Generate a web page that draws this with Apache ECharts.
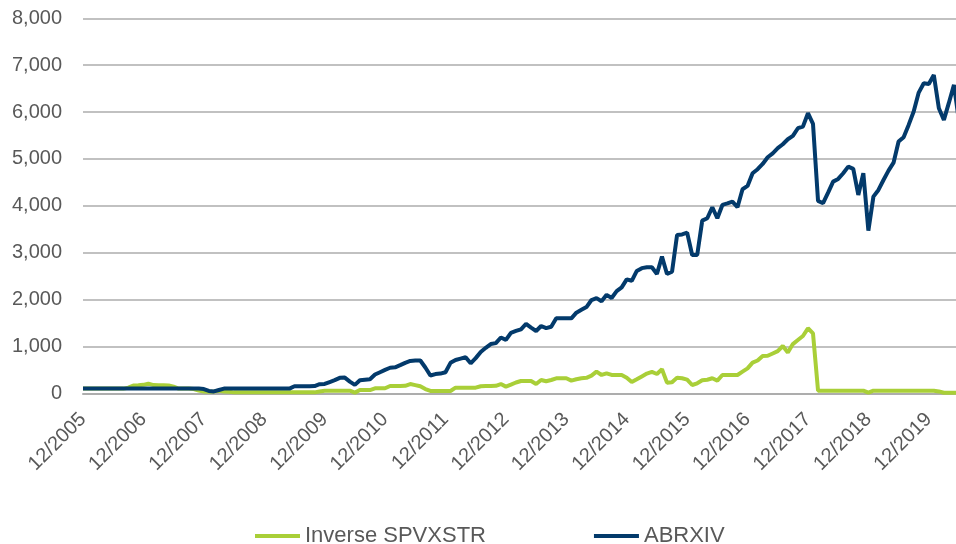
<!DOCTYPE html>
<html>
<head>
<meta charset="utf-8">
<title>ABRXIV vs Inverse SPVXSTR</title>
<script src="https://cdn.jsdelivr.net/npm/echarts@6/dist/echarts.min.js"></script>
<style>
  html, body { margin: 0; padding: 0; background: #fff; }
  #chart { width: 956px; height: 544px; }
</style>
</head>
<body>
<div id="chart"></div>
<script>
// monthly points, 12/2005 .. 6/2020
var startYear = 2005
var startMonth = 12
var pointCount = 175

// Inverse SPVXSTR (green)
var inverseSpvxstr = [
  100, 100, 100, 100, 100, 100, 100, 100, 100, 120,
  165, 170, 180, 205, 175, 170, 170, 165, 140, 100,
  100, 100, 90, 60, 40, 35, 40, 55, 40, 35,
  20, 20, 20, 20, 20, 20, 20, 20, 20, 20,
  20, 20, 20, 20, 20, 20, 20, 40, 55, 55,
  55, 55, 55, 55, 15, 70, 70, 70, 107, 107,
  107, 156, 156, 156, 160, 198, 175, 150, 90, 50,
  50, 50, 50, 50, 120, 120, 120, 120, 120, 150,
  156, 156, 160, 198, 142, 185, 230, 262, 262, 262,
  198, 284, 256, 284, 320, 320, 320, 270, 300, 320,
  330, 376, 462, 391, 427, 391, 391, 391, 334, 241,
  300, 360, 420, 455, 412, 512, 227, 234, 334, 320,
  291, 177, 213, 277, 290, 320, 270, 391, 391, 391,
  391, 462, 533, 654, 700, 796, 800, 850, 900, 1009,
  870, 1050, 1137, 1223, 1387, 1280, 56, 56, 56, 56,
  56, 56, 56, 56, 56, 56, 13, 56, 56, 56,
  56, 56, 56, 56, 56, 56, 56, 56, 56, 56,
  40, 13, 13, 13, 13
]

// ABRXIV (navy)
var abrxiv = [
  100, 100, 100, 100, 100, 100, 100, 100, 100, 100,
  100, 100, 100, 100, 100, 100, 100, 100, 100, 100,
  100, 100, 100, 100, 90, 50, 40, 70, 100, 100,
  100, 100, 100, 100, 100, 100, 100, 100, 100, 100,
  100, 100, 150, 150, 150, 150, 155, 195, 200, 240,
  280, 330, 335, 250, 180, 280, 290, 300, 400, 450,
  500, 545, 555, 600, 650, 690, 700, 700, 550, 380,
  410, 420, 450, 650, 710, 740, 770, 640, 750, 880,
  970, 1050, 1070, 1190, 1140, 1290, 1330, 1365, 1479, 1400,
  1330, 1436, 1390, 1420, 1600, 1600, 1600, 1600, 1720, 1780,
  1840, 1990, 2030, 1965, 2100, 2033, 2180, 2260, 2430, 2400,
  2610, 2670, 2690, 2690, 2546, 2915, 2546, 2595, 3378, 3390,
  3427, 2951, 2951, 3683, 3734, 3969, 3734, 4018, 4050, 4089,
  3969, 4353, 4424, 4695, 4780, 4893, 5036, 5120, 5230, 5313,
  5420, 5491, 5655, 5690, 5975, 5747, 4104, 4055, 4281, 4516,
  4573, 4695, 4836, 4787, 4232, 4695, 3470, 4196, 4338, 4550,
  4750, 4920, 5370, 5463, 5726, 6010, 6415, 6615, 6600, 6792,
  6081, 5832, 6200, 6579, 5800
]

var yTicks = [0, 1000, 2000, 3000, 4000, 5000, 6000, 7000, 8000]

// category labels like 12/2005, 1/2006 ...
var months = []
for (var i = 0; i < pointCount; i++) {
  var m = (startMonth - 1 + i) % 12 + 1
  var y = startYear + Math.floor((startMonth - 1 + i) / 12)
  months.push(m + '/' + y)
}

var labelColor = '#595959'
var fontName = '"Liberation Sans", Arial, sans-serif'

var myChart = echarts.init(document.getElementById('chart'), null, { renderer: 'canvas' })

var option = {
  animation: false,
  grid: {
    left: 83,
    top: 18.3,
    width: 876,
    height: 375,
    containLabel: false,
    outerBoundsMode: 'none'
  },
  legend: {
    top: 520,
    left: 250,
    icon: 'rect',
    itemWidth: 45,
    itemHeight: 4,
    itemGap: 108,
    textStyle: {
      fontSize: 22,
      color: labelColor,
      fontFamily: fontName
    },
    data: ['Inverse SPVXSTR', 'ABRXIV']
  },
  xAxis: {
    type: 'category',
    boundaryGap: false,
    data: months,
    axisLine: { lineStyle: { color: '#ADADAD', width: 2 } },
    axisTick: { show: false },
    axisLabel: {
      interval: 11,
      rotate: 45,
      margin: 23,
      fontSize: 20,
      color: labelColor,
      fontFamily: fontName
    },
    splitLine: { show: false }
  },
  yAxis: {
    type: 'value',
    min: yTicks[0],
    max: yTicks[yTicks.length - 1],
    interval: 1000,
    axisLine: { show: false },
    axisTick: { show: false },
    axisLabel: {
      margin: 21,
      fontSize: 20,
      color: labelColor,
      fontFamily: fontName,
      formatter: function (v) { return v.toLocaleString('en-US') }
    },
    splitLine: { lineStyle: { color: '#ADADAD', width: 1.6 } }
  },
  series: [
    {
      name: 'Inverse SPVXSTR',
      type: 'line',
      data: inverseSpvxstr,
      showSymbol: false,
      symbol: 'none',
      itemStyle: { color: '#A9CF38' },
      lineStyle: { color: '#A9CF38', width: 4 }
    },
    {
      name: 'ABRXIV',
      type: 'line',
      data: abrxiv,
      showSymbol: false,
      symbol: 'none',
      itemStyle: { color: '#033A6B' },
      lineStyle: { color: '#033A6B', width: 4 }
    }
  ]
}

myChart.setOption(option)
</script>
</body>
</html>
